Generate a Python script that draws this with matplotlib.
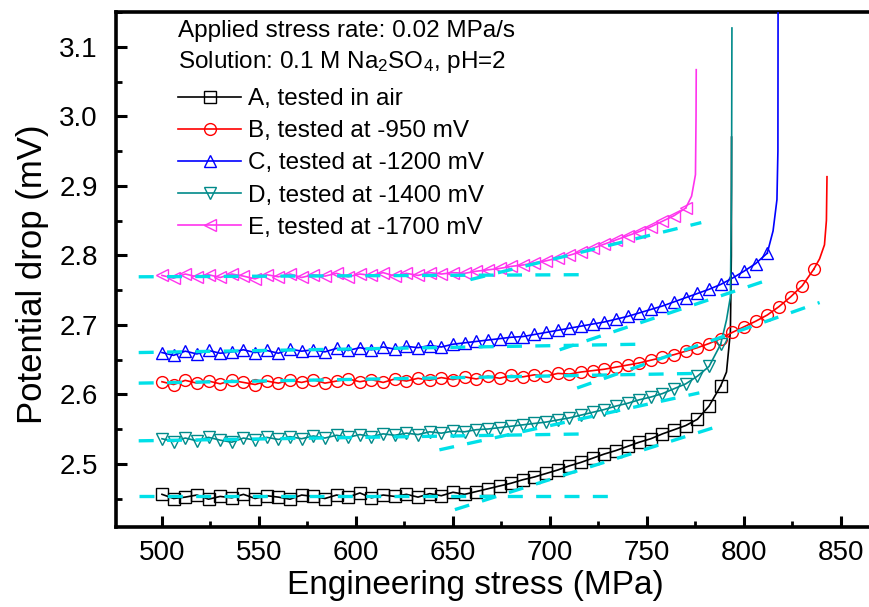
import matplotlib
matplotlib.use("Agg")
import matplotlib.pyplot as plt
from matplotlib.ticker import MultipleLocator, FixedLocator, FixedFormatter

plt.rcParams['font.family'] = ['Liberation Sans', 'DejaVu Sans']
plt.rcParams['mathtext.fontset'] = 'custom'
plt.rcParams['mathtext.rm'] = 'Liberation Sans'
plt.rcParams['mathtext.it'] = 'Liberation Sans:italic'

# ---------------- data ----------------
stress_grid = [500, 506, 512, 518, 524, 530, 536, 542, 548, 554, 560, 566, 572, 578, 584,
               590, 596, 602, 608, 614, 620, 626, 632, 638, 644, 650, 656, 662, 668, 674,
               680, 686, 692, 698, 704, 710, 716, 722, 728, 734, 740, 746, 752, 758, 764,
               770, 776, 782, 788, 794, 800, 806, 812, 818, 824, 830, 836]

pd_A = [2.456, 2.450, 2.452, 2.455, 2.449, 2.453, 2.451, 2.456, 2.450, 2.454,
        2.452, 2.449, 2.455, 2.453, 2.450, 2.455, 2.452, 2.458, 2.451, 2.455,
        2.453, 2.456, 2.452, 2.457, 2.454, 2.459, 2.456, 2.460, 2.464, 2.468,
        2.472, 2.477, 2.481, 2.486, 2.491, 2.497, 2.502, 2.508, 2.514, 2.519,
        2.525, 2.531, 2.536, 2.543, 2.549, 2.555, 2.564, 2.583, 2.612]
tail_A_x = [791, 793, 793.5, 793.6]
tail_A_y = [2.632, 2.690, 2.800, 2.970]

pd_B = [2.618, 2.614, 2.620, 2.616, 2.619, 2.615, 2.620, 2.617, 2.614, 2.619,
        2.616, 2.620, 2.617, 2.621, 2.616, 2.619, 2.622, 2.618, 2.621, 2.617,
        2.622, 2.619, 2.623, 2.620, 2.624, 2.621, 2.625, 2.622, 2.626, 2.623,
        2.627, 2.625, 2.628, 2.626, 2.630, 2.629, 2.632, 2.634, 2.636, 2.639,
        2.642, 2.645, 2.649, 2.653, 2.657, 2.662, 2.667, 2.673, 2.680, 2.689,
        2.697, 2.705, 2.714, 2.726, 2.740, 2.756, 2.780]
tail_B_x = [839, 841.5, 842.5, 842.8]
tail_B_y = [2.795, 2.815, 2.850, 2.913]

pd_C = [2.660, 2.656, 2.662, 2.658, 2.663, 2.659, 2.661, 2.664, 2.660, 2.663,
        2.659, 2.665, 2.662, 2.664, 2.661, 2.666, 2.663, 2.667, 2.664, 2.668,
        2.665, 2.669, 2.667, 2.670, 2.668, 2.672, 2.674, 2.676, 2.678, 2.680,
        2.682, 2.683, 2.686, 2.689, 2.692, 2.695, 2.698, 2.701, 2.704, 2.708,
        2.712, 2.717, 2.722, 2.727, 2.733, 2.739, 2.745, 2.751, 2.758, 2.767,
        2.777, 2.788, 2.803]
tail_C_x = [815, 817, 817.5, 817.6]
tail_C_y = [2.835, 2.880, 2.950, 3.200]

pd_D = [2.536, 2.532, 2.537, 2.533, 2.538, 2.534, 2.531, 2.537, 2.534, 2.538,
        2.535, 2.539, 2.536, 2.540, 2.537, 2.541, 2.538, 2.542, 2.539, 2.543,
        2.541, 2.544, 2.542, 2.546, 2.544, 2.547, 2.546, 2.549, 2.550, 2.552,
        2.554, 2.556, 2.558, 2.560, 2.563, 2.566, 2.570, 2.574, 2.578, 2.583,
        2.587, 2.592, 2.596, 2.601, 2.608, 2.615, 2.626, 2.640, 2.672]
tail_D_x = [791, 793, 793.6, 793.8]
tail_D_y = [2.707, 2.740, 2.900, 3.127]

pd_E = [2.771, 2.767, 2.773, 2.769, 2.772, 2.768, 2.773, 2.770, 2.766, 2.772,
        2.769, 2.773, 2.768, 2.772, 2.770, 2.774, 2.769, 2.773, 2.771, 2.775,
        2.770, 2.774, 2.771, 2.775, 2.773, 2.775, 2.774, 2.777, 2.779, 2.781,
        2.784, 2.786, 2.789, 2.792, 2.796, 2.800, 2.805, 2.810, 2.816, 2.822,
        2.828, 2.834, 2.841, 2.849, 2.857, 2.868]
tail_E_x = [773, 775, 775.3, 775.4]
tail_E_y = [2.885, 2.916, 3.000, 3.067]

labels = ["A, tested in air", "B, tested at -950 mV", "C, tested at -1200 mV",
          "D, tested at -1400 mV", "E, tested at -1700 mV"]

# cyan dashed tangent lines: (x0, y0, x1, y1)
fit_flat = [(488, 2.453, 735, 2.453), (488, 2.616, 776, 2.630), (488, 2.660, 746, 2.672),
            (488, 2.533, 720, 2.543), (488, 2.769, 715, 2.772)]
fit_slope = [(651, 2.434, 789, 2.556), (714, 2.609, 839, 2.732), (705, 2.664, 813, 2.765),
             (643, 2.520, 777, 2.602), (659, 2.765, 778, 2.847)]

xtick_vals = [500, 550, 600, 650, 700, 750, 800, 850]
ytick_vals = [2.5, 2.6, 2.7, 2.8, 2.9, 3.0, 3.1]
ytick_labels = ["2.5", "2.6", "2.7", "2.8", "2.9", "3.0", "3.1"]

# ---------------- style ----------------
colors = ["#000000", "#ff0000", "#0000ff", "#008a8a", "#ff33ee"]
markers = ["s", "o", "^", "v", "<"]
fit_color = "#00e0e8"

W, H = 869, 607
fig = plt.figure(figsize=(W / 100, H / 100), dpi=100)
ax = fig.add_axes([116 / W, (H - 527) / H, (872 - 116) / W, (527 - 12) / H])

series = [(pd_A, tail_A_x, tail_A_y), (pd_B, tail_B_x, tail_B_y), (pd_C, tail_C_x, tail_C_y),
          (pd_D, tail_D_x, tail_D_y), (pd_E, tail_E_x, tail_E_y)]
handles = []
for (vals, tx, ty), c, m, lab in zip(series, colors, markers, labels):
    xs = stress_grid[:len(vals)]
    h, = ax.plot(xs, vals, color=c, lw=1.2, marker=m, ms=8.5, mfc="none", mec=c, mew=1.0,
                 label=lab, zorder=3)
    ax.plot([xs[-1]] + tx, [vals[-1]] + ty, color=c, lw=1.2, zorder=3)
    handles.append(h)

for (x0, y0, x1, y1) in fit_flat + fit_slope:
    ax.plot([x0, x1], [y0, y1], color=fit_color, lw=2.4, dashes=(4.5, 4.0), zorder=4)

ax.set_xlim(476.3, 866)
ax.set_ylim(2.409, 3.150)

ax.xaxis.set_major_locator(FixedLocator(xtick_vals))
ax.xaxis.set_minor_locator(MultipleLocator(25))
ax.yaxis.set_major_locator(FixedLocator(ytick_vals))
ax.yaxis.set_major_formatter(FixedFormatter(ytick_labels))
ax.yaxis.set_minor_locator(MultipleLocator(0.05))

ax.tick_params(which="major", direction="in", length=8, width=2.2, labelsize=20, color="black")
ax.tick_params(which="minor", direction="in", length=4, width=2.0)
ax.tick_params(axis="x", which="major", pad=9)
ax.tick_params(axis="y", which="major", pad=13)
ax.tick_params(top=False, right=False, which="both")

for s in ax.spines.values():
    s.set_linewidth(2.6)

ax.set_xlabel("Engineering stress (MPa)", fontsize=24)
ax.xaxis.set_label_coords(0.476, -0.083)
ax.set_ylabel("Potential drop (mV)", fontsize=25)
ax.yaxis.set_label_coords(-0.089, 0.49)

fig.text(178 / W, 1 - 31 / H, "Applied stress rate: 0.02 MPa/s", fontsize=17.5, va="center", ha="left")
fig.text(178 / W, 1 - 62 / H, "Solution: 0.1 M Na$_2$SO$_4$, pH=2", fontsize=17.5, va="center", ha="left")

ax.legend(handles=handles, loc="upper left", bbox_to_anchor=(178 / W, 1 - 88 / H),
          bbox_transform=fig.transFigure, frameon=False, fontsize=17.5, handlelength=2.6,
          handletextpad=0.3, labelspacing=0.42, borderpad=0, borderaxespad=0, numpoints=1)

fig.savefig("out.png", dpi=100)
